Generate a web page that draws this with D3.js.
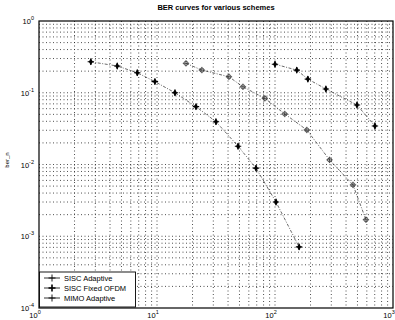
<!DOCTYPE html>
<html>
<head>
<meta charset="utf-8">
<script src="https://d3js.org/d3.v7.min.js"></script>
<style>
  body { margin: 0; background: #fff; }
  svg { display: block; font-family: "Liberation Sans", Arial, sans-serif; }
</style>
</head>
<body>
<script>
// series (x = SNR-like axis, y = BER)
const fixedX = [2.75, 4.6, 6.8, 9.6, 14.2, 21.4, 31.6, 48.6, 69, 102, 160];
const fixedY = [0.27, 0.236, 0.19, 0.143, 0.1, 0.064, 0.0395, 0.018, 0.0089, 0.003, 0.00071];

const sisoX = [17.6, 24, 40.7, 53.5, 82, 121, 186, 290, 458, 590];
const sisoY = [0.257, 0.207, 0.167, 0.121, 0.0837, 0.0506, 0.0303, 0.0116, 0.0052, 0.0017];

const mimoX = [100, 153, 190, 270, 495, 703];
const mimoY = [0.25, 0.207, 0.155, 0.113, 0.0675, 0.0344];

const legendNames = ['SISC Adaptive', 'SISC Fixed OFDM', 'MIMO Adaptive'];
const xTickPowers = [0, 1, 2, 3];
const yTickPowers = [0, -1, -2, -3, -4];

const width = 395, height = 320;
const margin = { left: 39, right: 2, top: 21, bottom: 12 };

const svg = d3.select('body').append('svg')
  .attr('width', width)
  .attr('height', height);

const x = d3.scaleLog().domain([1, 1000]).range([margin.left, width - margin.right]);
const y = d3.scaleLog().domain([1e-4, 1]).range([height - margin.bottom, margin.top]);

// grid (major + minor, dotted like matlab)
const xGrid = [];
for (let p = 0; p < 3; p++) for (let m = 1; m < 10; m++) xGrid.push(m * Math.pow(10, p));
const yGrid = [];
for (let p = -4; p < 0; p++) for (let m = 1; m < 10; m++) yGrid.push(m * Math.pow(10, p));

const g = svg.append('g');
g.selectAll('line.gx').data(xGrid.slice(1)).join('line')
  .attr('x1', d => x(d)).attr('x2', d => x(d))
  .attr('y1', y(1)).attr('y2', y(1e-4))
  .attr('stroke', '#222').attr('stroke-width', 0.8).attr('stroke-dasharray', '1,2.5');
g.selectAll('line.gy').data(yGrid.slice(1)).join('line')
  .attr('y1', d => y(d)).attr('y2', d => y(d))
  .attr('x1', x(1)).attr('x2', x(1000))
  .attr('stroke', '#222').attr('stroke-width', 0.8).attr('stroke-dasharray', '1,2.5');

// axes box
svg.append('rect')
  .attr('x', x(1)).attr('y', y(1))
  .attr('width', x(1000) - x(1)).attr('height', y(1e-4) - y(1))
  .attr('fill', 'none').attr('stroke', '#000').attr('stroke-width', 1.2);

// tick labels
const yl = svg.append('g').attr('font-size', 7.5).attr('fill', '#000');
yTickPowers.forEach(p => {
  const t = yl.append('text').attr('x', margin.left - 5).attr('y', y(Math.pow(10, p)) + 3)
    .attr('text-anchor', 'end');
  t.append('tspan').text('10');
  t.append('tspan').attr('dy', -4).attr('font-size', 5.5).text(p);
});
xTickPowers.forEach(p => {
  const t = yl.append('text').attr('x', x(Math.pow(10, p)) - 4).attr('y', height - 2)
    .attr('text-anchor', 'middle');
  t.append('tspan').text('10');
  t.append('tspan').attr('dy', -4).attr('font-size', 5.5).text(p);
});

// title and y label
svg.append('text').attr('x', 216).attr('y', 10).attr('text-anchor', 'middle')
  .attr('font-size', 7.5).attr('font-weight', 'bold').text('BER curves for various schemes');
svg.append('text').attr('transform', 'translate(9,' + 160 + ') rotate(-90)')
  .attr('text-anchor', 'middle').attr('font-size', 6).text('ber_n');

// markers
function marker(sel, type) {
  if (type === 'filled') {
    sel.append('path').attr('d', d3.symbol(d3.symbolDiamond, 14)()).attr('fill', '#000');
    sel.append('path').attr('d', 'M-3.2,0H3.2M0,-3.2V3.2').attr('stroke', '#000').attr('stroke-width', 1.1);
  } else {
    sel.append('circle').attr('r', 2.1).attr('fill', 'none').attr('stroke', '#333').attr('stroke-width', 0.8);
    sel.append('path').attr('d', 'M-3.2,0H3.2M0,-3.2V3.2').attr('stroke', '#333').attr('stroke-width', 0.8);
  }
}

const series = [
  { xs: sisoX, ys: sisoY, type: 'open' },
  { xs: fixedX, ys: fixedY, type: 'filled' },
  { xs: mimoX, ys: mimoY, type: 'filled' }
];

const line = d3.line().x(d => x(d[0])).y(d => y(d[1]));
series.forEach(s => {
  const pts = s.xs.map((v, i) => [v, s.ys[i]]);
  svg.append('path').datum(pts).attr('d', line)
    .attr('fill', 'none').attr('stroke', '#444').attr('stroke-width', 0.8)
    .attr('stroke-dasharray', '3,1.5,1,1.5');
  svg.selectAll(null).data(pts).join('g')
    .attr('transform', d => `translate(${x(d[0])},${y(d[1])})`)
    .each(function () { marker(d3.select(this), s.type); });
});

// legend
const lg = svg.append('g');
lg.append('rect').attr('x', 39.5).attr('y', 272).attr('width', 96).attr('height', 35)
  .attr('fill', '#fff').attr('stroke', '#000').attr('stroke-width', 0.9);
legendNames.forEach((name, i) => {
  const yy = 278 + i * 10;
  lg.append('line').attr('x1', 44).attr('x2', 60).attr('y1', yy).attr('y2', yy)
    .attr('stroke', '#000').attr('stroke-width', 0.8);
  lg.append('path').attr('d', 'M-3.5,0H3.5M0,-3.5V3.5').attr('transform', `translate(52,${yy})`)
    .attr('stroke', '#000').attr('stroke-width', i === 1 ? 1.6 : 0.9);
  lg.append('text').attr('x', 64).attr('y', yy + 2.6).attr('font-size', 7.5).text(name);
});
</script>
</body>
</html>
